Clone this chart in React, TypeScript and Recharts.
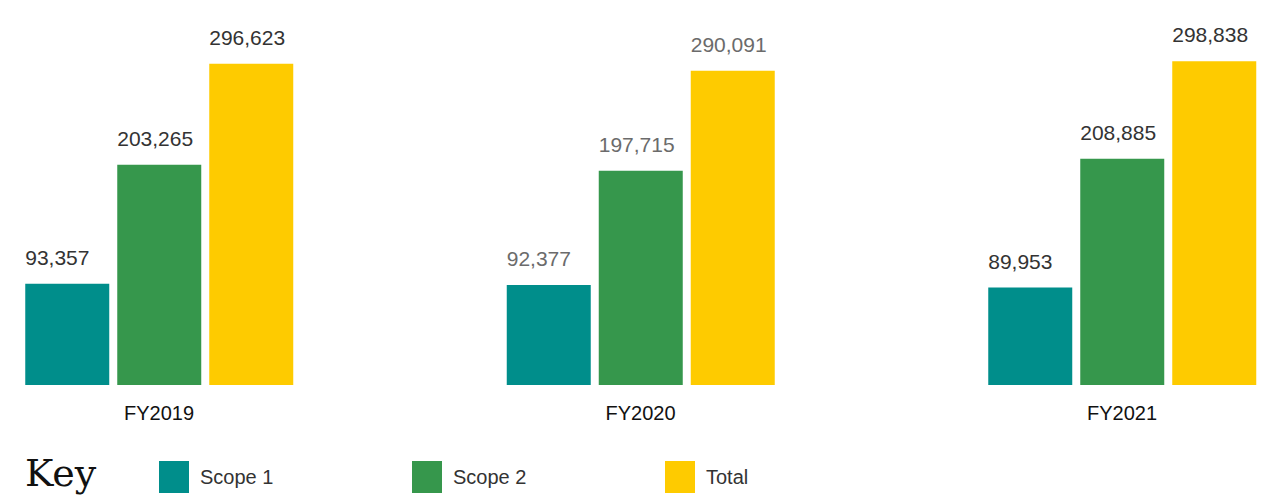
import { BarChart, Bar, XAxis, YAxis, LabelList } from 'recharts';

const years = ['FY2019', 'FY2020', 'FY2021'];
const scope1 = [93357, 92377, 89953];
const scope2 = [203265, 197715, 208885];
const total = [296623, 290091, 298838];
// FY2020 values are printed in a lighter grey in the source
const labelTones = ['#333333', '#6b6b6b', '#333333'];

const series = [
  { key: 'scope1', name: 'Scope 1', color: '#008e8b' },
  { key: 'scope2', name: 'Scope 2', color: '#36974c' },
  { key: 'total', name: 'Total', color: '#fecb00' },
];

const data = years.map((year, i) => ({
  year,
  scope1: scope1[i],
  scope2: scope2[i],
  total: total[i],
}));

const font = '"Liberation Sans", Arial, Helvetica, sans-serif';

const ValueLabel = (props: any) => {
  const { x, y, value, index } = props;
  return (
    <text
      x={x}
      y={y - 19}
      fill={labelTones[index] ?? '#333'}
      fontSize={21}
      fontFamily={font}
      textAnchor="start"
    >
      {Number(value).toLocaleString('en-US')}
    </text>
  );
};

export default function App() {
  return (
    <div style={{ position: 'absolute', left: 0, top: 0, width: 1287, height: 495, background: '#fff', overflow: 'hidden' }}>
      <BarChart
        width={1287}
        height={440}
        data={data}
        margin={{ top: 60, right: 0, bottom: 0, left: 0 }}
        barSize={84}
        barGap={8}
      >
        <XAxis
          dataKey="year"
          scale="point"
          padding={{ left: 159, right: 165 }}
          axisLine={false}
          tickLine={false}
          tickSize={0}
          tickMargin={21}
          height={55}
          tick={{ fill: '#111', fontSize: 20, fontFamily: font }}
        />
        <YAxis hide domain={[0, 300000]} />
        {series.map(s => (
          <Bar key={s.key} dataKey={s.key} name={s.name} fill={s.color} isAnimationActive={false}>
            <LabelList dataKey={s.key} content={ValueLabel} />
          </Bar>
        ))}
      </BarChart>
      <div style={{ position: 'absolute', left: 25, top: 455, display: 'flex', alignItems: 'center', height: 44 }}>
        <span
          style={{
            fontFamily: '"DejaVu Serif", serif',
            fontSize: 38,
            lineHeight: '38px',
            color: '#111',
            width: 134,
            position: 'relative',
            top: -4,
          }}
        >
          Key
        </span>
        {series.map(s => (
          <div key={s.key} style={{ display: 'flex', alignItems: 'center', width: 253 }}>
            <span style={{ display: 'inline-block', width: 30, height: 32, background: s.color, marginRight: 11 }} />
            <span style={{ fontFamily: font, fontSize: 20, color: '#333' }}>{s.name}</span>
          </div>
        ))}
      </div>
    </div>
  );
}
